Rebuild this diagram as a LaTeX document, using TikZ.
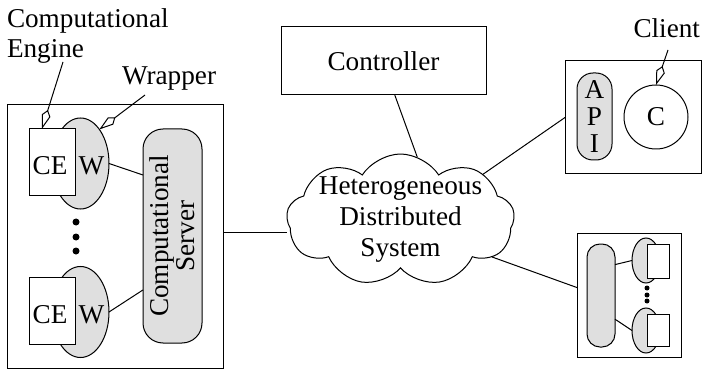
\documentclass[tikz,border=0pt]{standalone}
\usepackage{fontspec}
\setmainfont{Liberation Serif}
\usetikzlibrary{shapes.geometric,shapes.symbols,arrows.meta,calc}
\begin{document}
\begin{tikzpicture}[x=0.5pt,y=-0.5pt,
  font=\fontsize{13.6}{15}\selectfont,
  every node/.style={inner sep=0pt, outer sep=0pt},
  plainbox/.style={draw, line width=0.5pt, rectangle},
  greyell/.style={draw, line width=0.5pt, ellipse, fill=gray!25},
  whitebox/.style={draw, line width=0.5pt, rectangle, fill=white},
  greyround/.style={draw, line width=0.5pt, rectangle, fill=gray!25},
  txt/.style={inner sep=0pt},
  bigdot/.style={circle, fill=black, minimum size=3.5pt},
  smalldot/.style={circle, fill=black, minimum size=2.5pt},
  conn/.style={line width=0.5pt},
  leader/.style={line width=0.5pt, -{Kite[open, length=10pt, width=4.5pt, inset=3pt]}}
]
\useasboundingbox (0,0) rectangle (702,369);

% ---------- left computational server box ----------
\node[plainbox, minimum width=108pt, minimum height=131.5pt] (cs) at (115,236.5) {};
\node[greyell, minimum width=28.5pt, minimum height=45.5pt] (w1) at (80.5,163.5) {};
\node[whitebox, minimum width=23pt, minimum height=33.5pt] (ce1) at (52,162.5) {};
\node[txt] (ce1t) at (50,166) {CE};
\node[txt] (w1t) at (91.5,166) {W};
\node[greyell, minimum width=28.5pt, minimum height=45.5pt] (w2) at (80.5,312) {};
\node[whitebox, minimum width=23pt, minimum height=33.5pt] (ce2) at (52,311) {};
\node[txt] (ce2t) at (50,314.5) {CE};
\node[txt] (w2t) at (91.5,314.5) {W};
\node[bigdot] (d1) at (76,222) {};
\node[bigdot] (d2) at (76,237) {};
\node[bigdot] (d3) at (76,251) {};
\node[greyround, rounded corners=10pt, minimum width=29.5pt, minimum height=107pt,
  label={[rotate=90, align=center, font=\fontsize{13.6}{13}\selectfont]center:Computational\\Server}] (srv) at (172.5,236) {};
\draw[conn] (w1.east) -- ($(srv.north west)!0.215!(srv.south west)$);
\draw[conn] (w2.east) -- ($(srv.north west)!0.752!(srv.south west)$);

% ---------- labels & leaders ----------
\node[txt, anchor=north west, align=left] (lce) at (7,8.5) {Computational\\Engine};
\node[txt, anchor=base west] (lwr) at (122,85) {Wrapper};
\coordinate (engtail) at (63,62);
\coordinate (wrtail) at (145,95);
\draw[leader] (engtail) -- ($(ce1.north west)!0.28!(ce1.north east)$);
\draw[leader] (wrtail) -- (w1.61);

% ---------- controller & cloud ----------
\node[plainbox, minimum width=102.5pt, minimum height=34pt] (ctrl) at (383.5,61) {Controller};
\node[cloud, draw, line width=0.5pt, cloud puffs=9, cloud puff arc=115, cloud ignores aspect,
  inner sep=-6pt, minimum width=114pt, minimum height=66pt, align=center,
  font=\fontsize{13.6}{15.5}\selectfont] (cloud) at (400.5,220) {Heterogeneous\\Distributed\\System};
\coordinate (ctrlfoot) at ($(ctrl.south west)!0.555!(ctrl.south east)$);
\draw[conn] (ctrlfoot) -- (cloud.75);
\coordinate (csport) at ($(cs.north east)!0.483!(cs.south east)$);
\draw[conn] (csport) -- (csport -| cloud.west);

% ---------- client ----------
\node[plainbox, minimum width=68pt, minimum height=56.5pt] (clbox) at (633,117.5) {};
\node[greyround, rounded corners=8pt, minimum width=17.5pt, minimum height=43.5pt,
  align=center, font=\fontsize{13.6}{13.4}\selectfont] (api) at (594.5,116.5) {A\\P\\I};
\node[draw, line width=0.5pt, circle, minimum size=32pt] (cli) at (656,117) {C};
\node[txt, anchor=base east] (lcl) at (700,38) {Client};
\coordinate (cltail) at (668,50);
\draw[leader] (cltail) -- (cli.north);
\draw[conn] (cloud.29) -- (clbox.west);

% ---------- lower-right server ----------
\node[plainbox, minimum width=52pt, minimum height=62pt] (box2) at (629,295) {};
\node[greyround, rounded corners=6.5pt, minimum width=14pt, minimum height=51.5pt] (rr2) at (601,295.5) {};
\node[greyell, minimum width=14pt, minimum height=22.5pt] (e3) at (646,260.5) {};
\node[whitebox, minimum width=11pt, minimum height=17pt] (r3) at (658,261) {};
\node[greyell, minimum width=14pt, minimum height=22.5pt] (e4) at (646,330.5) {};
\node[whitebox, minimum width=11pt, minimum height=16pt] (r4) at (658,330) {};
\node[smalldot] (s1) at (647,288) {};
\node[smalldot] (s2) at (647,295) {};
\node[smalldot] (s3) at (647,301) {};
\draw[conn] ($(rr2.north east)!0.2!(rr2.south east)$) -- (e3.west);
\draw[conn] ($(rr2.north east)!0.73!(rr2.south east)$) -- (e4.west);
\draw[conn] (cloud.-22) -- ($(box2.north west)!0.44!(box2.south west)$);
\end{tikzpicture}
\end{document}
